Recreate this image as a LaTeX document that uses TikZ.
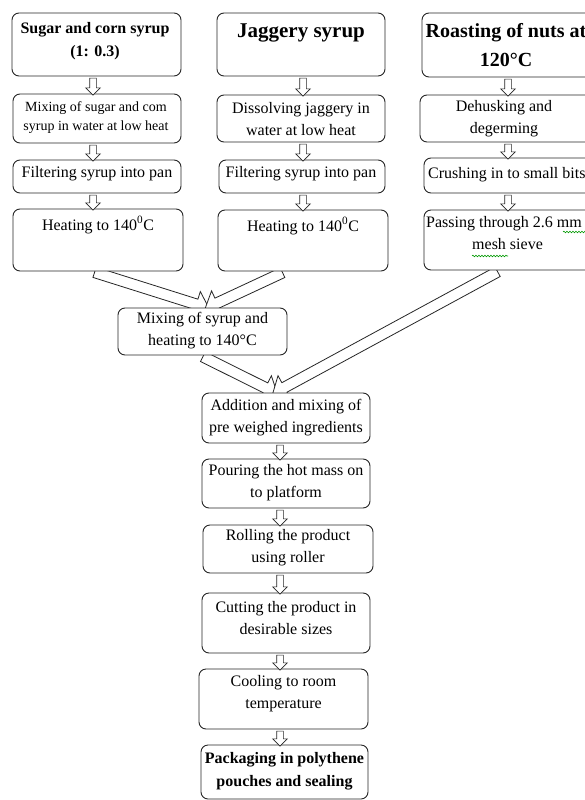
\documentclass[tikz,border=0pt]{standalone}
\usepackage{fontspec}
\setmainfont{Liberation Serif}
\usetikzlibrary{shapes.arrows,calc,decorations.pathmorphing}
\pgfdeclarelayer{bg}
\pgfsetlayers{bg,main}

\tikzset{
  box/.style={draw=black!85, line width=0.9pt, rounded corners=7pt, fill=white, inner sep=0pt},
  txt/.style={align=center, inner sep=0pt, text=black},
  normalf/.style={font=\fontsize{16}{22}\selectfont},
  smallf/.style={font=\fontsize{14}{19}\selectfont},
  boldf/.style={font=\fontsize{16}{23}\selectfont\bfseries},
  barrow/.style={single arrow, draw=black!85, line width=0.8pt, fill=white,
    inner xsep=0pt, inner ysep=5pt, single arrow head extend=8pt,
    single arrow tip angle=90, minimum width=0pt},
  sarrow/.style={single arrow, draw=black!85, line width=0.7pt, fill=white,
    inner xsep=0pt, inner ysep=3pt, single arrow head extend=4pt,
    single arrow tip angle=90, minimum width=0pt},
  spell/.style={draw=green!60!black, line width=0.6pt, decorate,
    decoration={snake, amplitude=0.8pt, segment length=3pt}}
}

% box: name, left, top, right, bottom (pixel coordinates)
\newcommand{\mkbox}[5]{%
  \node[box, minimum width={(#4-#2)*1pt}, minimum height={(#5-#3)*1pt}]
    (#1) at ({(#2+#4)/2},{(#3+#5)/2}) {};}
% block arrow from point to point
\newcommand{\blockarrow}[3][barrow]{%
  \path let \p1=#2, \p2=#3, \n1={atan2(\y2-\y1,\x2-\x1)},
    \n2={veclen(\x2-\x1,\y2-\y1)} in
    node[#1, minimum height=\n2, rotate=\n1] at ($(\p1)!0.5!(\p2)$) {};}

\begin{document}
\begin{tikzpicture}[x=1pt, y=-1pt]
\begin{pgfonlayer}{bg}
\fill[white] (0,0) rectangle (585,800);
\end{pgfonlayer}
\useasboundingbox (0,0) rectangle (585,800);

% column guide coordinates
\coordinate (x1) at (93,0);
\coordinate (x2) at (303,0);
\coordinate (x3) at (508,0);
\coordinate (xc) at (280,0);

% ---------- boxes ----------
\mkbox{b1}{12}{13}{181}{76}
\mkbox{b2}{13}{94}{181}{143}
\mkbox{b3}{13}{160}{181}{193}
\mkbox{b4}{13}{209}{183}{271}

\mkbox{j1}{217}{13}{385}{76}
\mkbox{j2}{217}{95}{385}{142}
\mkbox{j3}{219}{160}{385}{193}
\mkbox{j4}{218}{210}{388}{271}

\mkbox{r1}{422}{13}{592}{77}
\mkbox{r2}{420}{95}{592}{142}
\mkbox{r3}{424}{158}{592}{193}
\mkbox{r4}{424}{210}{592}{270}

\mkbox{m}{118}{308}{287}{355}
\mkbox{a}{202}{393}{370}{443}
\mkbox{p}{202}{459}{370}{508}
\mkbox{ro}{203}{525}{373}{573}
\mkbox{c}{202}{593}{370}{653}
\mkbox{co}{199}{669}{368}{729}
\mkbox{pk}{201}{745}{368}{799}

% ---------- big block arrows (behind the boxes) ----------
\begin{pgfonlayer}{bg}
\blockarrow{($(b4.south)+(-6,0)$)}{($(m.north)+(4,0)$)}
\blockarrow{($(j4.south)+(-18,0)$)}{($(m.north)+(5,0)$)}
\blockarrow{($(m.south)+(-2,0)$)}{($(a.north)+(-11,0)$)}
\blockarrow{($(r4.south)+(-8,0)$)}{($(a.north)+(-11,0)$)}
\end{pgfonlayer}

% ---------- small arrows ----------
\blockarrow[sarrow]{(x1 |- b1.south)}{(x1 |- b2.north)}
\blockarrow[sarrow]{(x1 |- b2.south)}{(x1 |- b3.north)}
\blockarrow[sarrow]{(x1 |- b3.south)}{(x1 |- b4.north)}
\blockarrow[sarrow]{(x2 |- j1.south)}{(x2 |- j2.north)}
\blockarrow[sarrow]{(x2 |- j2.south)}{(x2 |- j3.north)}
\blockarrow[sarrow]{(x2 |- j3.south)}{(x2 |- j4.north)}
\blockarrow[sarrow]{(x3 |- r1.south)}{(x3 |- r2.north)}
\blockarrow[sarrow]{(x3 |- r2.south)}{(x3 |- r3.north)}
\blockarrow[sarrow]{(x3 |- r3.south)}{(x3 |- r4.north)}
\blockarrow[sarrow]{(xc |- a.south)}{(xc |- p.north)}
\blockarrow[sarrow]{(xc |- p.south)}{(xc |- ro.north)}
\blockarrow[sarrow]{(xc |- ro.south)}{(xc |- c.north)}
\blockarrow[sarrow]{(xc |- c.south)}{(xc |- co.north)}
\blockarrow[sarrow]{(xc |- co.south)}{(xc |- pk.north)}

% ---------- texts ----------
\node[txt, boldf] (b1t) at (95,41.5) {Sugar and corn syrup\\(1: 0.3)};
\node[txt, smallf] (b2t) at (96,117.5) {Mixing of sugar and com\\syrup in water at low heat};
\node[txt, normalf] (b3t) at (97,174) {Filtering syrup into pan};
\node[txt, normalf] (b4t) at (98,225) {Heating to 140\textsuperscript{0}C};

\node[txt, font=\fontsize{21}{26}\selectfont\bfseries] (j1t) at (301,33) {Jaggery syrup};
\node[txt, normalf] (j2t) at (301,119) {Dissolving jaggery in\\water at low heat};
\node[txt, normalf] (j3t) at (301,174) {Filtering syrup into pan};
\node[txt, normalf] (j4t) at (303,226) {Heating to 140\textsuperscript{0}C};

\node[txt, font=\fontsize{20}{29}\selectfont\bfseries] (r1t) at (506,45) {Roasting of nuts at\\120°C};
\node[txt, normalf] (r2t) at (504,119) {Dehusking and\\degerming};
\node[txt, normalf, anchor=west] (r3t) at (428,175) {Crushing in to small bits};
\node[txt, normalf, align=left, anchor=west] (r4t) at (426,233) {Passing through 2.6 mm\\\hspace*{46pt}mesh sieve};

\node[txt, normalf] (mt) at (202.5,331) {Mixing of syrup and\\heating to 140°C};
\node[txt, normalf] (at) at (286,418) {Addition and mixing of\\pre weighed ingredients};
\node[txt, normalf] (pt) at (286,483) {Pouring the hot mass on\\to platform};
\node[txt, normalf] (rot) at (288,548) {Rolling the product\\using roller};
\node[txt, normalf] (ct) at (286,618) {Cutting the product in\\desirable sizes};
\node[txt, normalf] (cot) at (283.5,694) {Cooling to room\\temperature};
\node[txt, boldf] (pkt) at (284.5,771) {Packaging in polythene\\pouches and sealing};

% spell-check squiggles
\draw[spell] (472,256) -- (508,256);
\draw[spell] (563,232) -- (586,232);
\end{tikzpicture}
\end{document}
